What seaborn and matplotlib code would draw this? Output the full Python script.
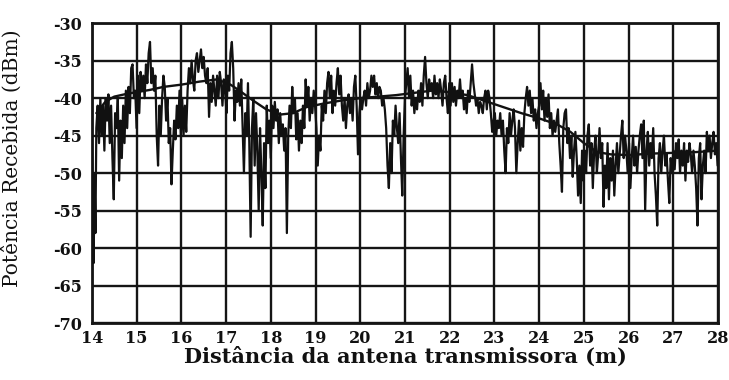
import numpy as np
import pandas as pd
import matplotlib
matplotlib.use("Agg")
import matplotlib.pyplot as plt
import seaborn as sns

# Measured received power (noisy trace), read per metre
dist_14 = [14.00, 14.02, 14.04, 14.06, 14.08, 14.10, 14.13, 14.16, 14.19, 14.22, 14.25, 14.28, 14.31, 14.34, 14.37, 14.40, 14.43, 14.46,
           14.49, 14.52, 14.55, 14.58, 14.61, 14.64, 14.67, 14.70, 14.73, 14.76, 14.79, 14.82, 14.85, 14.88, 14.91, 14.94, 14.97]
pow_14 = [-45, -55, -62, -50, -58, -44, -41, -46, -40, -45, -41, -47, -40, -43, -39.5, -46, -41, -48,
          -53.5, -42, -44, -40, -51, -43, -48, -41, -46, -39, -44, -38.5, -42, -36, -35.5, -40, -39]

dist_15 = [15.00, 15.03, 15.06, 15.09, 15.12, 15.15, 15.18, 15.21, 15.24, 15.27, 15.30, 15.33, 15.36, 15.39, 15.42, 15.45, 15.48,
           15.51, 15.54, 15.57, 15.60, 15.63, 15.66, 15.69, 15.72, 15.75, 15.78, 15.81, 15.84, 15.87, 15.90, 15.93, 15.96, 15.99]
pow_15 = [-44, -37, -42, -36.5, -39, -37, -40, -35.5, -38, -34, -32.5, -38, -36, -39, -37, -45, -49,
          -41, -45, -40, -37, -38.5, -43, -40, -46, -44, -51.5, -47, -43, -45.5, -41, -44, -39, -45]

dist_16 = [16.02, 16.05, 16.08, 16.11, 16.14, 16.17, 16.20, 16.23, 16.26, 16.29, 16.32, 16.35, 16.38, 16.41, 16.44, 16.47, 16.50,
           16.53, 16.56, 16.59, 16.62, 16.65, 16.68, 16.71, 16.74, 16.77, 16.80, 16.83, 16.86, 16.89, 16.92, 16.95, 16.98]
pow_16 = [-40, -45, -41, -44.5, -39, -36, -38, -35, -37.5, -39, -35, -34, -36.5, -35, -33.5, -36, -34.5,
          -37, -38, -36, -42.5, -38, -40.5, -37, -39, -41, -37, -40, -36.5, -38, -41, -37.5, -39]

dist_17 = [17.01, 17.04, 17.07, 17.10, 17.13, 17.16, 17.19, 17.22, 17.25, 17.28, 17.31, 17.34, 17.37, 17.40, 17.43, 17.46, 17.49,
           17.52, 17.55, 17.58, 17.61, 17.64, 17.67, 17.70, 17.73, 17.76, 17.79, 17.82, 17.85, 17.88, 17.91, 17.94, 17.97]
pow_17 = [-42, -37, -39, -34, -32.5, -36, -43, -39, -40.5, -38, -41, -37.5, -44, -50, -42, -45, -38,
          -46, -58.5, -44, -40, -49, -42, -47, -55, -44, -50, -57, -46, -52, -41, -46, -43]

dist_18 = [18.00, 18.03, 18.06, 18.09, 18.12, 18.15, 18.18, 18.21, 18.24, 18.27, 18.30, 18.33, 18.36, 18.39, 18.42, 18.45, 18.48,
           18.51, 18.54, 18.57, 18.60, 18.63, 18.66, 18.69, 18.72, 18.75, 18.78, 18.81, 18.84, 18.87, 18.90, 18.93, 18.96, 18.99]
pow_18 = [-48, -41, -44, -40.5, -43, -41.5, -46, -42, -45, -43.5, -47, -44, -58, -45, -41, -44, -38.5,
          -42, -40, -45.5, -42, -47, -43, -46, -41, -44, -37.5, -41, -38.5, -43, -40, -42, -39, -41]

dist_19 = [19.02, 19.05, 19.08, 19.11, 19.14, 19.17, 19.20, 19.23, 19.26, 19.29, 19.32, 19.35, 19.38, 19.41, 19.44, 19.47, 19.50,
           19.53, 19.56, 19.59, 19.62, 19.65, 19.68, 19.71, 19.74, 19.77, 19.80, 19.83, 19.86, 19.89, 19.92, 19.95, 19.98]
pow_19 = [-44, -49, -45, -47, -41, -43, -39, -42, -38, -36.5, -40, -37, -42, -39, -41, -38, -36,
          -39.5, -37, -41, -43, -40, -44, -41, -39.5, -42, -40, -43, -38.5, -37, -41, -47.5, -42]

dist_20 = [20.01, 20.04, 20.07, 20.10, 20.13, 20.16, 20.19, 20.22, 20.25, 20.28, 20.31, 20.34, 20.37, 20.40, 20.43, 20.46, 20.49,
           20.52, 20.55, 20.58, 20.61, 20.64, 20.67, 20.70, 20.73, 20.76, 20.79, 20.82, 20.85, 20.88, 20.91, 20.94, 20.97]
pow_20 = [-40, -41.5, -40, -39, -41, -38, -40, -39, -37, -38.5, -37, -39.5, -38, -40, -38.5, -39, -41,
          -40, -41.5, -44, -49, -52, -46, -50, -43, -45, -41, -44, -46, -42, -48, -53, -45]

dist_21 = [21.00, 21.03, 21.06, 21.09, 21.12, 21.15, 21.18, 21.21, 21.24, 21.27, 21.30, 21.33, 21.36, 21.39, 21.42, 21.45, 21.48,
           21.51, 21.54, 21.57, 21.60, 21.63, 21.66, 21.69, 21.72, 21.75, 21.78, 21.81, 21.84, 21.87, 21.90, 21.93, 21.96, 21.99]
pow_21 = [-40, -38, -36, -40, -37, -41, -39, -42, -40, -41.5, -39, -40.5, -38, -41, -37, -34.5, -38,
          -40, -37.5, -39, -38, -40, -37, -39.5, -38, -40, -37.5, -39, -41, -38, -37, -40, -42, -38]

dist_22 = [22.02, 22.05, 22.08, 22.11, 22.14, 22.17, 22.20, 22.23, 22.26, 22.29, 22.32, 22.35, 22.38, 22.41, 22.44, 22.47, 22.50,
           22.53, 22.56, 22.59, 22.62, 22.65, 22.68, 22.71, 22.74, 22.77, 22.80, 22.83, 22.86, 22.89, 22.92, 22.95, 22.98]
pow_22 = [-41, -38, -40.5, -38.5, -41, -39, -40, -37.5, -40, -39, -41.5, -40, -42, -39, -40.5, -38, -35.5,
          -38, -39.5, -41, -40, -42, -40.5, -41, -42, -40, -39, -41.5, -39, -40, -42, -44.5, -43]

dist_23 = [23.01, 23.04, 23.07, 23.10, 23.13, 23.16, 23.19, 23.22, 23.25, 23.28, 23.31, 23.34, 23.37, 23.40, 23.43, 23.46, 23.49,
           23.52, 23.55, 23.58, 23.61, 23.64, 23.67, 23.70, 23.73, 23.76, 23.79, 23.82, 23.85, 23.88, 23.91, 23.94, 23.97]
pow_23 = [-42, -45, -43, -44, -42, -45, -43, -47, -50, -44, -46, -42, -45, -43, -41.5, -44, -50,
          -46, -43, -47, -44, -46.5, -42, -40, -38.5, -41, -39, -42, -40, -43, -41.5, -44, -42]

dist_24 = [24.00, 24.03, 24.06, 24.09, 24.12, 24.15, 24.18, 24.21, 24.24, 24.27, 24.30, 24.33, 24.36, 24.39, 24.42, 24.45, 24.48,
           24.51, 24.54, 24.57, 24.60, 24.63, 24.66, 24.69, 24.72, 24.75, 24.78, 24.81, 24.84, 24.87, 24.90, 24.93, 24.96, 24.99]
pow_24 = [-41, -38, -41.5, -39, -43, -40, -42.5, -39.5, -44, -42, -45, -43, -44.5, -43, -41.5, -46, -49,
          -52.5, -44, -42, -41.5, -46, -44, -48, -45, -50.5, -47, -44.5, -48, -53, -49, -54, -47, -51]

dist_25 = [25.02, 25.05, 25.08, 25.11, 25.14, 25.17, 25.20, 25.23, 25.26, 25.29, 25.32, 25.35, 25.38, 25.41, 25.44, 25.47, 25.50,
           25.53, 25.56, 25.59, 25.62, 25.65, 25.68, 25.71, 25.74, 25.77, 25.80, 25.83, 25.86, 25.89, 25.92, 25.95, 25.98]
pow_25 = [-47, -50, -45, -43.5, -49, -46, -52, -47, -45, -50, -47.5, -44, -48, -46, -54.5, -49, -52,
          -46, -53.5, -48, -51, -47, -53, -49, -46, -50, -47.5, -45, -43, -48, -45, -47, -50]

dist_26 = [26.01, 26.04, 26.07, 26.10, 26.13, 26.16, 26.19, 26.22, 26.25, 26.28, 26.31, 26.34, 26.37, 26.40, 26.43, 26.46, 26.49,
           26.52, 26.55, 26.58, 26.61, 26.64, 26.67, 26.70, 26.73, 26.76, 26.79, 26.82, 26.85, 26.88, 26.91, 26.94, 26.97]
pow_26 = [-46, -52, -48, -45, -49, -46.5, -50, -47, -45, -43.5, -48, -43, -55, -47, -44.5, -49, -46,
          -48, -44, -50, -53, -57, -48, -46, -50, -47, -45, -49, -47.5, -51, -54, -48, -50]

dist_27 = [27.00, 27.03, 27.06, 27.09, 27.12, 27.15, 27.18, 27.21, 27.24, 27.27, 27.30, 27.33, 27.36, 27.39, 27.42, 27.45, 27.48,
           27.51, 27.54, 27.57, 27.60, 27.63, 27.66, 27.69, 27.72, 27.75, 27.78, 27.81, 27.84, 27.87, 27.90, 27.93, 27.96, 27.99]
pow_27 = [-47, -49.5, -46, -48, -45.5, -50, -47, -49, -46, -51, -47, -48.5, -46, -47.5, -50, -47, -49,
          -52, -57, -48, -46, -53.5, -49, -47, -50, -44.5, -47, -45, -48, -46, -44.5, -47.5, -46, -49]

# Smoothed (mean) power curve
dist_mean = [14.10, 14.30, 14.50, 14.80, 15.00, 15.30, 15.60, 16.00, 16.40, 16.80, 17.10, 17.30, 17.60, 17.90, 18.20, 18.50, 18.80,
             19.20, 19.60, 20.00, 20.40, 20.80, 21.20, 21.60, 22.00, 22.40, 22.80, 23.20, 23.60, 24.00, 24.40, 24.70, 25.00,
             25.30, 25.60, 26.00, 26.50, 27.00, 27.50, 28.00]
pow_mean = [-42, -40.5, -39.8, -39.4, -39.2, -38.9, -38.5, -38.2, -37.8, -37.5, -38.2, -39, -40.3, -41.5, -42.2, -42.0, -41.2,
            -40.7, -40.3, -40, -39.8, -39.6, -39.3, -39, -39.2, -39.6, -40.4, -41.2, -42, -42.7, -43.5, -44.5, -46,
            -47.2, -47.5, -47.6, -47.4, -47.3, -47.2, -47]

x_ticks = list(range(14, 29))
y_ticks = list(range(-70, -25, 5))

noisy = pd.DataFrame({
    "dist": dist_14 + dist_15 + dist_16 + dist_17 + dist_18 + dist_19 + dist_20 + dist_21
            + dist_22 + dist_23 + dist_24 + dist_25 + dist_26 + dist_27,
    "power": pow_14 + pow_15 + pow_16 + pow_17 + pow_18 + pow_19 + pow_20 + pow_21
             + pow_22 + pow_23 + pow_24 + pow_25 + pow_26 + pow_27,
})
mean_df = pd.DataFrame({"dist": dist_mean, "power": pow_mean})

sns.set_style("white")
plt.rcParams["font.family"] = ["DejaVu Serif"]

fig = plt.figure(figsize=(7.29, 3.80), dpi=100)
ax = fig.add_axes([0.126, 0.150, 0.859, 0.789])

# grid first so the trace sits on top
for xv in x_ticks:
    ax.axvline(xv, color="#151515", lw=1.7, zorder=1)
for yv in y_ticks:
    ax.axhline(yv, color="#151515", lw=1.7, zorder=1)

sns.lineplot(data=noisy, x="dist", y="power", ax=ax, color="#111111", lw=1.6,
             estimator=None, sort=False, zorder=3)
sns.lineplot(data=mean_df, x="dist", y="power", ax=ax, color="#111111", lw=1.7,
             estimator=None, zorder=4)

ax.set_xlim(14, 28)
ax.set_ylim(-70, -30)
ax.set_xticks(x_ticks)
ax.set_yticks(y_ticks)
ax.set_xticklabels([str(v) for v in x_ticks], fontsize=11.5, fontweight="bold")
ax.set_yticklabels([str(v) for v in y_ticks], fontsize=11.5, fontweight="bold")
ax.tick_params(axis="both", length=0, colors="#111111")
ax.tick_params(axis="x", pad=5)
ax.tick_params(axis="y", pad=7)

for s in ax.spines.values():
    s.set_color("#151515")
    s.set_linewidth(2)

ax.set_xlabel("Distância da antena transmissora (m)", fontsize=15, fontweight="bold",
              color="#111111", labelpad=0)
ax.set_ylabel("Potência Recebida (dBm)", fontsize=14.5, color="#111111")
ax.yaxis.set_label_coords(-0.112, 0.55)

fig.savefig("out.png", dpi=100)
